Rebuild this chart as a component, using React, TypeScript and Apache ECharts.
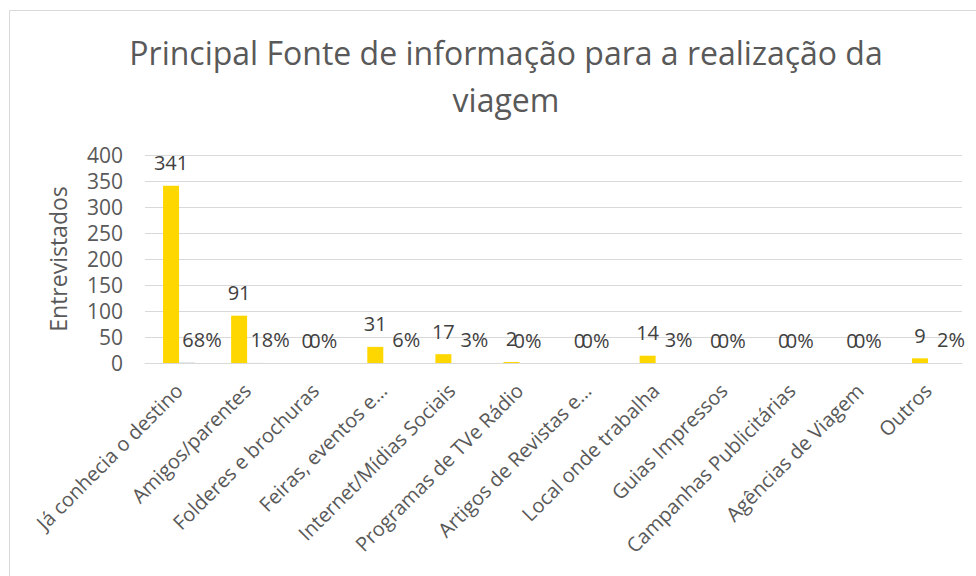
import React, { useEffect, useRef } from "react";
import * as echarts from "echarts";

const titleText = "Principal Fonte de informação para a realização da\nviagem";
const yAxisName = "Entrevistados";
const categories = [
  "Já conhecia o destino",
  "Amigos/parentes",
  "Folderes e brochuras",
  "Feiras, eventos e…",
  "Internet/Mídias Sociais",
  "Programas de TVe Rádio",
  "Artigos de Revistas e…",
  "Local onde trabalha",
  "Guias Impressos",
  "Campanhas Publicitárias",
  "Agências de Viagem",
  "Outros",
];
const counts = [341, 91, 0, 31, 17, 2, 0, 14, 0, 0, 0, 9];
const shares = [0.68, 0.18, 0, 0.06, 0.03, 0, 0, 0.03, 0, 0, 0, 0.02];
const yTicks = { min: 0, max: 400, interval: 50 };

const FONT = "'Open Sans', sans-serif";

export default function App() {
  const ref = useRef<HTMLDivElement>(null);
  useEffect(() => {
    if (!ref.current) return;
    const chart = echarts.init(ref.current, null, { renderer: "svg" });
    chart.setOption({
      animation: false,
      backgroundColor: "#ffffff",
      textStyle: { fontFamily: FONT },
      title: {
        text: titleText,
        left: 501,
        top: 24,
        textAlign: "center",
        textStyle: {
          fontFamily: FONT,
          fontSize: 32,
          fontWeight: "normal",
          color: "#595959",
          lineHeight: 47,
        },
      },
      graphic: [
        {
          type: "rect",
          shape: { x: 9.5, y: 10.5, width: 1200, height: 1200 },
          style: { fill: "none", stroke: "#d9d9d9", lineWidth: 1 },
          silent: true,
        },
      ],
      grid: { left: 145, right: 14, top: 155, bottom: 213, containLabel: false },
      xAxis: {
        type: "category",
        data: categories,
        axisLine: { show: true, lineStyle: { color: "#d9d9d9" } },
        axisTick: { show: false },
        axisLabel: {
          interval: 0,
          rotate: 45,
          fontSize: 20,
          color: "#595959",
          fontFamily: FONT,
          margin: 24,
        },
      },
      yAxis: {
        type: "value",
        min: yTicks.min,
        max: yTicks.max,
        interval: yTicks.interval,
        name: yAxisName,
        nameLocation: "middle",
        nameGap: 76,
        nameTextStyle: { fontSize: 23, color: "#595959", fontFamily: FONT },
        axisLine: { show: false },
        axisTick: { show: false },
        axisLabel: { fontSize: 21, color: "#595959", margin: 22, fontFamily: FONT },
        splitLine: { lineStyle: { color: "#d9d9d9", width: 1 } },
      },
      series: [
        {
          type: "bar",
          data: counts,
          barWidth: 16,
          barGap: "0%",
          itemStyle: { color: "#FFD700" },
          label: {
            show: true,
            position: "top",
            distance: 13,
            fontSize: 20,
            color: "#404040",
            fontFamily: FONT,
          },
        },
        {
          type: "bar",
          data: shares.map((v) => ({
            value: v,
            label: { offset: [v > 0 ? 15 : 0, 0] },
          })),
          barWidth: 16,
          itemStyle: { color: "#b4c0d0" },
          label: {
            show: true,
            position: "top",
            distance: 13,
            fontSize: 20,
            color: "#404040",
            fontFamily: FONT,
            formatter: (p: any) => Math.round(p.value * 100) + "%",
          },
        },
      ],
    });
    return () => chart.dispose();
  }, []);
  return (
    <div
      ref={ref}
      style={{ position: "fixed", left: 0, top: 0, width: 976, height: 576 }}
    />
  );
}
